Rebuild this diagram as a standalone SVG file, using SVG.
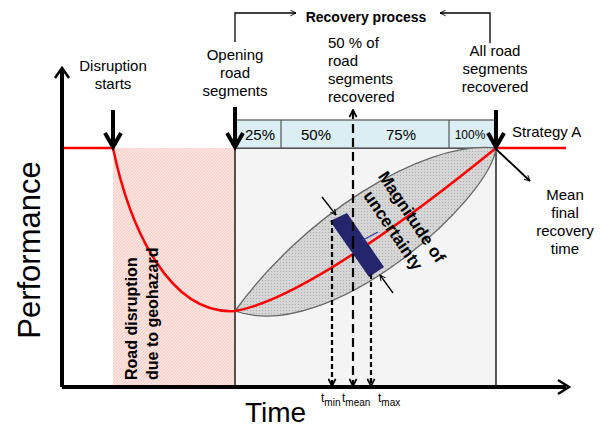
<svg xmlns="http://www.w3.org/2000/svg" width="603" height="427" viewBox="0 0 603 427">
<defs>
<style>
text{font-family:"Liberation Sans",Arial,sans-serif;fill:#000}
.lbl{font-size:15px;text-anchor:middle}
.pct{font-size:15px;text-anchor:middle}
.thick{stroke:#000;stroke-width:4;fill:none}
.thin{stroke:#000;stroke-width:1.3;fill:none}
.red{stroke:#ff0000;stroke-width:2.5;fill:none}
.dash{stroke:#000;stroke-width:2.2;fill:none;stroke-dasharray:5,3}
.dashL{stroke:#000;stroke-width:2.2;fill:none;stroke-dasharray:9,5}
</style>
<pattern id="hatch" width="3" height="3" patternUnits="userSpaceOnUse">
<rect width="3" height="3" fill="#fbe3df"/>
<path d="M0,3 L3,0" stroke="#f4c2bb" stroke-width="0.7"/>
</pattern>
<pattern id="dots" width="3" height="3" patternUnits="userSpaceOnUse">
<rect width="3" height="3" fill="#d6d6d6"/>
<circle cx="1.5" cy="1.5" r="0.6" fill="#a8a8a8"/>
</pattern>
<marker id="open" viewBox="0 0 10 10" refX="9" refY="5" markerWidth="7" markerHeight="7" markerUnits="userSpaceOnUse" orient="auto">
<path d="M1,1 L9,5 L1,9" fill="none" stroke="#000" stroke-width="1.3"/>
</marker>
<marker id="vhead" viewBox="0 0 10 10" refX="9" refY="5" markerWidth="9" markerHeight="9" markerUnits="userSpaceOnUse" orient="auto">
<path d="M1,1 L9,5 L1,9" fill="none" stroke="#000" stroke-width="2"/>
</marker>
</defs>

<g id="regions">
<rect id="disruption-zone" x="113" y="148" width="122" height="239" fill="url(#hatch)"/>
<rect id="recovery-zone" x="235" y="148" width="261" height="239" fill="#f4f4f4" stroke="#000" stroke-width="1.3"/>
</g>

<g id="recovery-bar">
<rect x="235" y="120" width="261" height="28" fill="#daeef3" stroke="#555" stroke-width="1.2"/>
<line x1="281" y1="120" x2="281" y2="148" stroke="#555" stroke-width="1.2"/>
<line x1="449" y1="120" x2="449" y2="148" stroke="#555" stroke-width="1.2"/>
<text class="pct" x="260" y="140">25%</text>
<text class="pct" x="316" y="140">50%</text>
<text class="pct" x="401" y="140">75%</text>
<text x="470" y="139" style="font-size:12px;text-anchor:middle">100%</text>
</g>

<g id="uncertainty-band">
<path d="M235,311 C300,220 420,140 496,148 C490,200 330,345 235,311 Z" fill="url(#dots)" stroke="#666" stroke-width="1.3"/>
</g>

<g id="performance-curve">
<path class="red" d="M62,148 L113,148 C130,230 170,315 235,311 C300,300 420,210 496,148 L566,148"/>
</g>

<g id="uncertainty-bar">
<polygon points="330,221 347,213 384,267 369,277" fill="#25256e"/>
<line x1="363" y1="240" x2="378" y2="232" stroke="#3333aa" stroke-width="1.2"/>
</g>

<g id="connectors">
<line class="thick" x1="62" y1="387" x2="62" y2="70"/>
<path d="M55,78 L62,68 L69,78" fill="none" stroke="#000" stroke-width="2.5"/>
<line class="thick" x1="62" y1="387" x2="566" y2="387"/>
<path d="M558,380 L569,387 L558,394" fill="none" stroke="#000" stroke-width="2.5"/>

<line class="thick" x1="113" y1="110" x2="113" y2="146"/>
<path d="M105,133 L113,147 L121,133" fill="none" stroke="#000" stroke-width="4"/>
<line class="thick" x1="235" y1="107" x2="235" y2="146"/>
<path d="M227,133 L235,147 L243,133" fill="none" stroke="#000" stroke-width="4"/>
<line class="thick" x1="496" y1="110" x2="496" y2="146"/>
<path d="M488,133 L496,147 L504,133" fill="none" stroke="#000" stroke-width="4"/>

<path class="thin" d="M235,42 L235,13 L296,13" stroke="#555" marker-end="url(#open)"/>
<path class="thin" d="M490,43 L490,13 L440,13" stroke="#555" marker-end="url(#open)"/>

<line class="dash" x1="332" y1="220" x2="332" y2="386" marker-end="url(#vhead)"/>
<line class="dash" x1="371" y1="274" x2="371" y2="386" marker-end="url(#vhead)"/>
<line class="dashL" x1="353" y1="240" x2="353" y2="386" marker-end="url(#vhead)"/>
<line class="dashL" x1="353" y1="245" x2="353" y2="110" marker-end="url(#vhead)"/>

<line class="thin" x1="322" y1="197" x2="336" y2="215" marker-end="url(#open)"/>
<line class="thin" x1="393" y1="293" x2="380" y2="275" marker-end="url(#open)"/>
<line x1="496" y1="149" x2="530" y2="181" stroke="#000" stroke-width="1.8" marker-end="url(#open)"/>
</g>

<g id="labels">
<text x="32" y="242" transform="rotate(-90 40 242)" style="font-size:31px;text-anchor:middle">Performance</text>
<text x="245" y="422" style="font-size:28px">Time</text>

<text class="lbl"><tspan x="113" y="71">Disruption</tspan><tspan x="113" y="89">starts</tspan></text>
<text class="lbl"><tspan x="235" y="60">Opening</tspan><tspan x="235" y="78">road</tspan><tspan x="235" y="96">segments</tspan></text>
<text style="font-size:15px"><tspan x="328" y="48">50 % of</tspan><tspan x="328" y="66">road</tspan><tspan x="328" y="84">segments</tspan><tspan x="328" y="102">recovered</tspan></text>
<text class="lbl"><tspan x="495" y="56">All road</tspan><tspan x="495" y="74">segments</tspan><tspan x="495" y="92">recovered</tspan></text>
<text x="366" y="22" style="font-size:14px;font-weight:bold;text-anchor:middle">Recovery process</text>
<text x="512" y="137" style="font-size:15px">Strategy A</text>
<text class="lbl"><tspan x="565" y="200">Mean</tspan><tspan x="565" y="218">final</tspan><tspan x="565" y="236">recovery</tspan><tspan x="565" y="254">time</tspan></text>

<g transform="translate(137 380) rotate(-90)">
<text x="0" y="0" style="font-size:16px;font-weight:bold">Road disruption</text>
<text x="0" y="21" style="font-size:16px;font-weight:bold">due to geohazard</text>
</g>

<g transform="translate(407 220) rotate(56)">
<text x="0" y="0" style="font-size:17px;font-weight:bold;text-anchor:middle">Magnitude of</text>
<text x="1" y="23" style="font-size:17px;font-weight:bold;text-anchor:middle">uncertainty</text>
</g>

<text x="321" y="402" style="font-size:12px">t<tspan dy="4" style="font-size:10px">min</tspan></text>
<text x="342" y="402" style="font-size:12px">t<tspan dy="4" style="font-size:10px">mean</tspan></text>
<text x="378" y="402" style="font-size:12px">t<tspan dy="4" style="font-size:10px">max</tspan></text>
</g>
</svg>
